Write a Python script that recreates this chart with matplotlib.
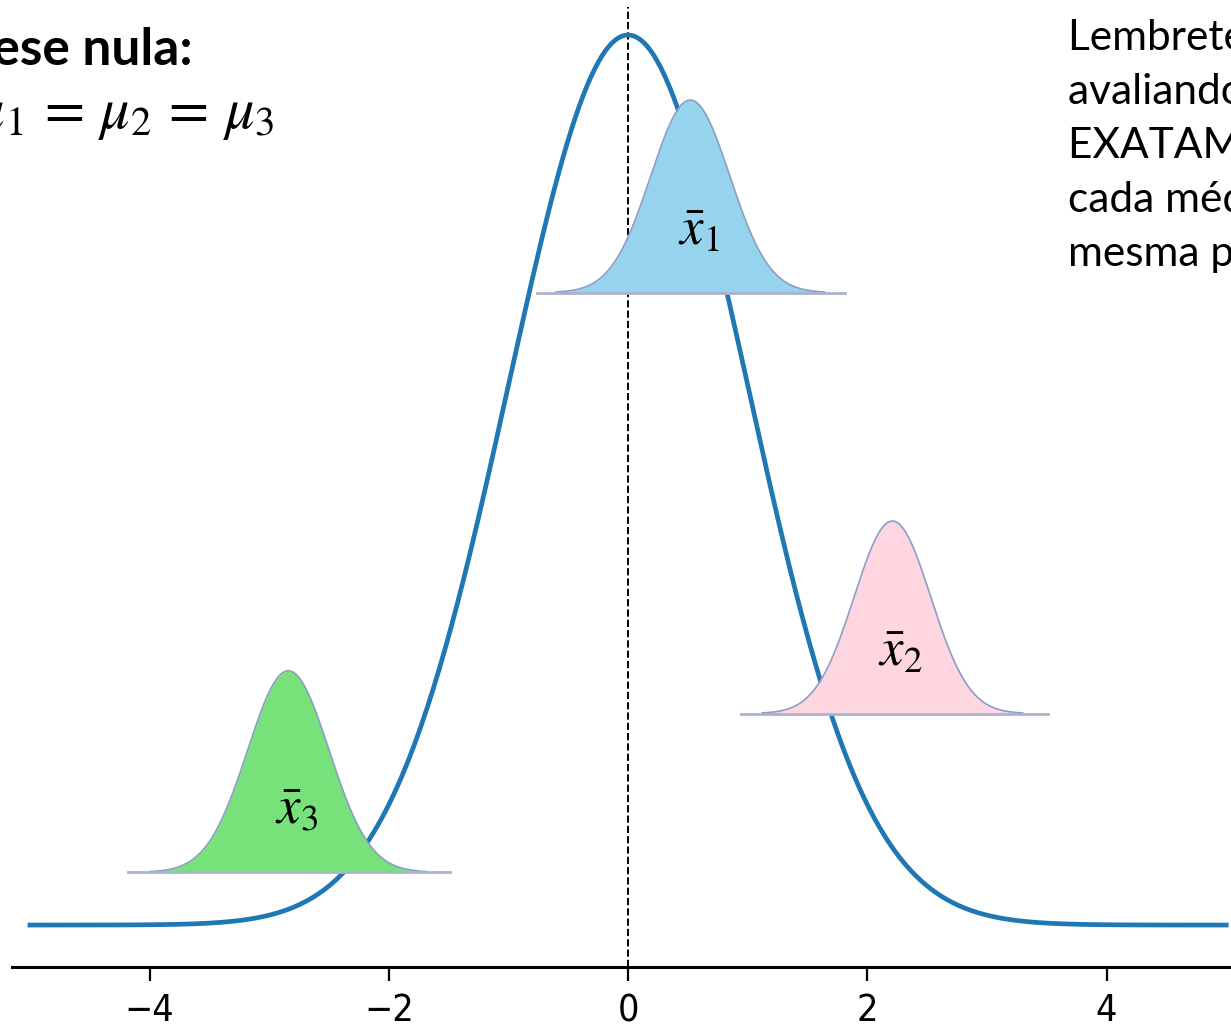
import numpy as np
import matplotlib
matplotlib.use("Agg")
import matplotlib.pyplot as plt

# population (null hypothesis) curve
pop_mean = 0.0
pop_sd = 1.0
x_range = (-5, 5)
x_ticks = [-4, -2, 0, 2, 4]

# sample-mean bells: label, center, sd, baseline, peak height, span of baseline
sample_labels = [r"$\bar{x}_1$", r"$\bar{x}_2$", r"$\bar{x}_3$"]
sample_centers = [0.52, 2.21, -2.84]
sample_sds = [0.33, 0.32, 0.34]
sample_bases = [0.2835, 0.0948, 0.0237]
sample_heights = [0.0863, 0.0863, 0.0903]
sample_spans = [(-0.76, 1.81), (0.94, 3.51), (-4.18, -1.49)]
sample_colors = ["#96d4ee", "#fdd6e0", "#77e27a"]

title_left = "Hipótese nula:"
equation = r"$\mu_1 \,=\, \mu_2 \,=\, \mu_3$"
note_lines = ["Lembrete: estamos", "avaliando se as amostras", "EXATAMENTE iguais, ou se",
              "cada média vem da", "mesma população"]

W, H = 1231, 1029
fig = plt.figure(figsize=(W / 100, H / 100), dpi=100)
plt.rcParams["mathtext.fontset"] = "stix"

# axes placed so that x=0 sits at ~628 px and the plot bleeds off the right/top
ax = fig.add_axes([12 / W, 62 / H, (1286 - 12) / W, 960 / H])
ax.set_xlim(-5.15, 5.5)
ax.set_ylim(-0.0188, 0.4115)

x = np.linspace(x_range[0], x_range[1], 600)
pdf = np.exp(-0.5 * ((x - pop_mean) / pop_sd) ** 2) / (pop_sd * np.sqrt(2 * np.pi))
ax.plot(x, pdf, color="#1f77b4", lw=3.4, zorder=2)
ax.axvline(pop_mean, color="black", ls="--", lw=1.4, zorder=1)

for lab, c, s, b, h, span, col in zip(sample_labels, sample_centers, sample_sds,
                                      sample_bases, sample_heights, sample_spans, sample_colors):
    xs = np.linspace(c - 3.4 * s, c + 3.4 * s, 300)
    ys = b + h * np.exp(-0.5 * ((xs - c) / s) ** 2)
    ax.fill_between(xs, b, ys, color=col, lw=0, zorder=3)
    ax.plot(xs, ys, color="#8d9dc5", lw=1.2, zorder=4)
    ax.plot(list(span), [b, b], color="#a9b3cc", lw=2.0, zorder=4)
    ax.text(c + 0.07, b + 0.028, lab, fontsize=38, ha="center", va="center", zorder=5)

for side in ["left", "right", "top"]:
    ax.spines[side].set_visible(False)
ax.spines["bottom"].set_linewidth(2.2)
ax.set_yticks([])
ax.set_xticks(x_ticks)
ax.set_xticklabels([str(t).replace("-", "\u2212") for t in x_ticks])
ax.tick_params(axis="x", length=10, width=1.6, labelsize=27, pad=9)
for t in ax.get_xticklabels():
    t.set_fontstretch("condensed")

fig.text(193 / W, 1 - 65 / H, title_left, fontsize=37, fontweight="bold",
         family="Lato", ha="right", va="baseline")
fig.text(275 / W, 1 - 128 / H, equation, fontsize=42, ha="right", va="baseline")
for i, line in enumerate(note_lines):
    fig.text(1068 / W, 1 - (50 + 54 * i) / H, line, fontsize=30.5, family="Lato",
             ha="left", va="baseline")

fig.savefig("out.png", dpi=100)
